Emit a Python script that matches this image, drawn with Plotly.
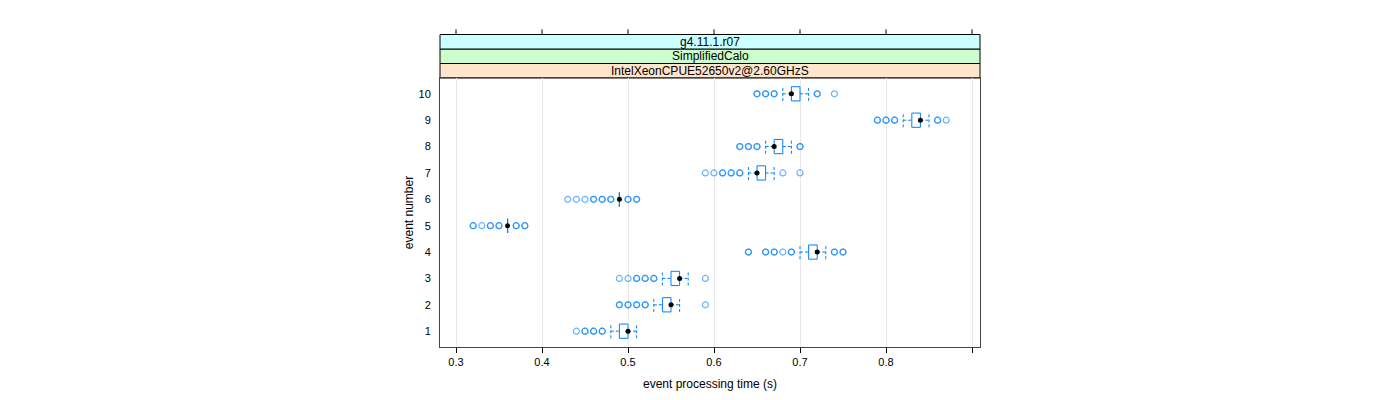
import plotly.graph_objects as go

# ---- data ----
events = [1, 2, 3, 4, 5, 6, 7, 8, 9, 10]
whisker_low = [0.48, 0.53, 0.54, 0.70, 0.36, 0.49, 0.64, 0.66, 0.82, 0.68]
q1 = [0.49, 0.54, 0.55, 0.71, 0.36, 0.49, 0.65, 0.67, 0.83, 0.69]
median = [0.50, 0.55, 0.56, 0.72, 0.36, 0.49, 0.65, 0.67, 0.84, 0.69]
q3 = [0.50, 0.55, 0.56, 0.72, 0.36, 0.49, 0.66, 0.68, 0.84, 0.70]
whisker_high = [0.51, 0.56, 0.57, 0.73, 0.36, 0.49, 0.67, 0.69, 0.85, 0.71]
# outliers (repeated values = overlapping points)
outliers = {
    1: [0.44, 0.45, 0.45, 0.46, 0.46, 0.47, 0.47],
    2: [0.49, 0.49, 0.50, 0.50, 0.51, 0.51, 0.52, 0.52, 0.59],
    3: [0.49, 0.50, 0.51, 0.51, 0.52, 0.52, 0.53, 0.53, 0.59],
    4: [0.64, 0.64, 0.66, 0.66, 0.67, 0.67, 0.68, 0.69, 0.69, 0.74, 0.74, 0.75, 0.75],
    5: [0.32, 0.32, 0.33, 0.34, 0.34, 0.35, 0.35, 0.37, 0.37, 0.38, 0.38],
    6: [0.43, 0.44, 0.45, 0.46, 0.46, 0.47, 0.47, 0.48, 0.48, 0.50, 0.50, 0.51, 0.51],
    7: [0.59, 0.60, 0.61, 0.61, 0.62, 0.62, 0.63, 0.63, 0.68, 0.70],
    8: [0.63, 0.63, 0.64, 0.64, 0.65, 0.65, 0.70, 0.70],
    9: [0.79, 0.79, 0.80, 0.80, 0.81, 0.81, 0.86, 0.86, 0.87],
    10: [0.65, 0.65, 0.66, 0.66, 0.67, 0.67, 0.72, 0.72, 0.74],
}
x_ticks = [0.3, 0.4, 0.5, 0.6, 0.7, 0.8, 0.9]
x_tick_labels = ["0.3", "0.4", "0.5", "0.6", "0.7", "0.8", ""]
strip_labels = ["g4.11.1.r07", "SimplifiedCalo", "IntelXeonCPUE52650v2@2.60GHzS"]
strip_colors = ["#ccffff", "#ccffcc", "#ffe5cc"]

BLUE = "#0080ff"
H = 0.27  # half box height in event units
FONT = "Liberation Sans, Arial, sans-serif"

fig = go.Figure()

# boxes
bx, by = [], []
for e, a, b in zip(events, q1, q3):
    bx += [a, b, b, a, a, None]
    by += [e - H, e - H, e + H, e + H, e - H, None]
fig.add_trace(go.Scatter(x=bx, y=by, mode="lines", line=dict(color=BLUE, width=1),
                         hoverinfo="skip", showlegend=False))

# whiskers (dashed)
wx, wy = [], []
for e, lo, a, b, hi in zip(events, whisker_low, q1, q3, whisker_high):
    wx += [lo, a, None, b, hi, None, lo, lo, None, hi, hi, None]
    wy += [e, e, None, e, e, None, e - H, e + H, None, e - H, e + H, None]
fig.add_trace(go.Scatter(x=wx, y=wy, mode="lines",
                         line=dict(color=BLUE, width=1, dash="3px,2px"),
                         hoverinfo="skip", showlegend=False))

# outliers
ox, oy = [], []
for e in events:
    for v in outliers[e]:
        ox.append(v)
        oy.append(e)
fig.add_trace(go.Scatter(x=ox, y=oy, mode="markers",
                         marker=dict(symbol="circle-open", size=6, color=BLUE,
                                     opacity=0.6, line=dict(width=1.2, color=BLUE)),
                         showlegend=False))

# medians
fig.add_trace(go.Scatter(x=median, y=events, mode="markers",
                         marker=dict(symbol="circle", size=5, color="black"),
                         showlegend=False))

# strips
y0 = 1.0
sh = 0.0539
shapes = []
annotations = []
for i, (lab, col) in enumerate(zip(reversed(strip_labels), reversed(strip_colors))):
    ya = y0 + i * sh
    yb = ya + sh
    shapes.append(dict(type="rect", xref="paper", yref="paper", x0=0, x1=1, y0=ya, y1=yb,
                       fillcolor=col, line=dict(color="black", width=1), layer="below"))
    annotations.append(dict(text=lab, xref="paper", yref="paper", x=0.5, y=(ya + yb) / 2,
                            showarrow=False, font=dict(family=FONT, size=12, color="black"),
                            yanchor="middle"))
top = y0 + 3 * sh
for t in x_ticks:
    shapes.append(dict(type="line", xref="x", yref="paper", x0=t, x1=t, y0=top, y1=top + 0.019,
                       line=dict(color="black", width=1)))

fig.update_layout(
    width=1400, height=400,
    margin=dict(l=432, r=428, t=70, b=61),
    plot_bgcolor="white", paper_bgcolor="white",
    shapes=shapes, annotations=annotations,
    font=dict(family=FONT, size=11, color="black"),
    xaxis=dict(range=[0.2814, 0.9093], tickvals=x_ticks, ticktext=x_tick_labels,
               showgrid=True, gridcolor="#e8e8e8", gridwidth=1, zeroline=False,
               showline=True, linecolor="#444", linewidth=1, mirror=True,
               ticks="outside", ticklen=5, tickcolor="black",
               title=dict(text="event processing time (s)", font=dict(size=12), standoff=12)),
    yaxis=dict(range=[0.4, 10.6], tickvals=events, ticktext=[str(e) for e in events],
               showgrid=False, zeroline=False,
               showline=True, linecolor="#444", linewidth=1, mirror=True,
               ticks="outside", ticklen=6, tickcolor="rgba(0,0,0,0)",
               title=dict(text="event number", font=dict(size=12), standoff=2)),
)

fig.write_html("out.html")
